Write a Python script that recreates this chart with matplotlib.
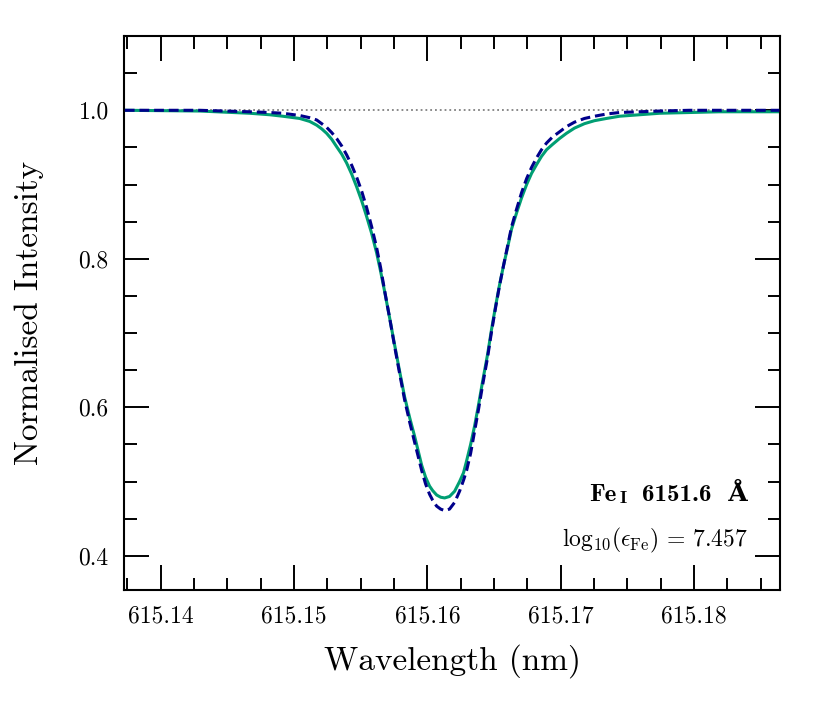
import numpy as np
import matplotlib
matplotlib.use('Agg')
import matplotlib.pyplot as plt

# wavelength grid (nm)
wave = [615.13730, 615.14292, 615.14667, 615.14817, 615.14915, 615.15042,
        615.15117, 615.15169, 615.15207, 615.15244, 615.15282, 615.15319,
        615.15357, 615.15394, 615.15432, 615.15469, 615.15507, 615.15544,
        615.15582, 615.15619, 615.15649, 615.15679, 615.15717, 615.15754,
        615.15792, 615.15829, 615.15867, 615.15904, 615.15957, 615.15986,
        615.16016, 615.16039, 615.16069, 615.16099, 615.16129, 615.16166,
        615.16204, 615.16241, 615.16271, 615.16294, 615.16324, 615.16354,
        615.16384, 615.16414, 615.16451, 615.16481, 615.16511, 615.16541,
        615.16571, 615.16601, 615.16631, 615.16669, 615.16706, 615.16744,
        615.16781, 615.16819, 615.16856, 615.16894, 615.16938, 615.16991,
        615.17043, 615.17103, 615.17178, 615.17253, 615.17343, 615.17441,
        615.17741, 615.17965, 615.18190, 615.18640]

# observed profile (green, solid)
obs = [1.000, 0.999, 0.996, 0.994, 0.992, 0.989,
       0.985, 0.980, 0.975, 0.969, 0.961, 0.951,
       0.941, 0.929, 0.914, 0.897, 0.878, 0.857,
       0.834, 0.808, 0.783, 0.756, 0.720, 0.684,
       0.648, 0.614, 0.586, 0.561, 0.522, 0.506,
       0.494, 0.488, 0.482, 0.479, 0.478, 0.480,
       0.487, 0.500, 0.512, 0.528, 0.550, 0.575,
       0.604, 0.635, 0.671, 0.705, 0.736, 0.765,
       0.791, 0.815, 0.840, 0.862, 0.882, 0.900,
       0.915, 0.927, 0.938, 0.947, 0.954, 0.962,
       0.969, 0.976, 0.982, 0.986, 0.989, 0.992,
       0.996, 0.997, 0.998, 0.998]

# synthetic profile (navy, dashed)
syn = [1.000, 1.000, 0.998, 0.997, 0.996, 0.993,
       0.990, 0.987, 0.982, 0.977, 0.970, 0.962,
       0.952, 0.940, 0.926, 0.910, 0.891, 0.869,
       0.843, 0.815, 0.788, 0.757, 0.720, 0.682,
       0.645, 0.610, 0.580, 0.553, 0.515, 0.497,
       0.483, 0.475, 0.467, 0.463, 0.461, 0.463,
       0.472, 0.487, 0.502, 0.515, 0.538, 0.568,
       0.598, 0.630, 0.667, 0.702, 0.734, 0.764,
       0.791, 0.817, 0.843, 0.867, 0.889, 0.908,
       0.923, 0.936, 0.947, 0.956, 0.964, 0.971,
       0.978, 0.984, 0.989, 0.992, 0.995, 0.997,
       0.999, 1.000, 1.000, 1.000]

xticks = [615.14, 615.15, 615.16, 615.17, 615.18]
yticks = [0.4, 0.6, 0.8, 1.0]

plt.rcParams['font.family'] = 'serif'
plt.rcParams['font.serif'] = ['cmr10']
plt.rcParams['mathtext.fontset'] = 'cm'
plt.rcParams['axes.formatter.use_mathtext'] = True

fig = plt.figure(figsize=(8.3, 7.12), dpi=100)
ax = fig.add_axes([0.1494, 0.1713, 0.7904, 0.7781])

ax.axhline(1.0, color='gray', linestyle=':', linewidth=1.3, zorder=1)
ax.plot(wave, obs, color='#009E73', linewidth=2.2, zorder=2)
ax.plot(wave, syn, color='#00008B', linewidth=2.2, linestyle=(0, (3.2, 1.6)), zorder=3)

ax.set_xlim(615.13724, 615.18645)
ax.set_ylim(0.354, 1.1)
ax.set_xticks(xticks)
ax.set_xticklabels(['%.2f' % t for t in xticks])
ax.set_yticks(yticks)
ax.set_yticklabels(['%.1f' % t for t in yticks])
ax.set_xticks(np.arange(615.1375, 615.1875, 0.0025), minor=True)
ax.set_yticks(np.arange(0.4, 1.11, 0.05), minor=True)

ax.tick_params(which='both', direction='in', top=True, right=True, width=1.4,
               labelsize=17, pad=11)
ax.tick_params(which='major', length=18)
ax.tick_params(which='minor', length=9)
for s in ax.spines.values():
    s.set_linewidth(1.5)

ax.set_xlabel('Wavelength (nm)', fontsize=24, labelpad=12)
ax.set_ylabel('Normalised Intensity', fontsize=24, labelpad=25)

bold = ['cmb10', 'DejaVu Serif']
t1 = ax.text(0.951, 0.151, '6151.6  Å', transform=ax.transAxes, ha='right',
             va='bottom', fontsize=18, family=bold, fontweight='bold')
t2 = ax.annotate('I', xy=(0, 0), xycoords=t1, xytext=(-11, 0),
                 textcoords='offset points', ha='right', va='bottom',
                 fontsize=13, family=bold, fontweight='bold')
ax.annotate('Fe', xy=(0, 0), xycoords=t2, xytext=(-2, 0),
            textcoords='offset points', ha='right', va='bottom',
            fontsize=18, family=bold, fontweight='bold')
ax.text(0.951, 0.090, r'$\mathrm{log}_{10}(\epsilon_{\mathrm{Fe}})\, =\, 7.457$',
        transform=ax.transAxes, ha='right', va='center', fontsize=17)

fig.savefig('out.png', dpi=100)
